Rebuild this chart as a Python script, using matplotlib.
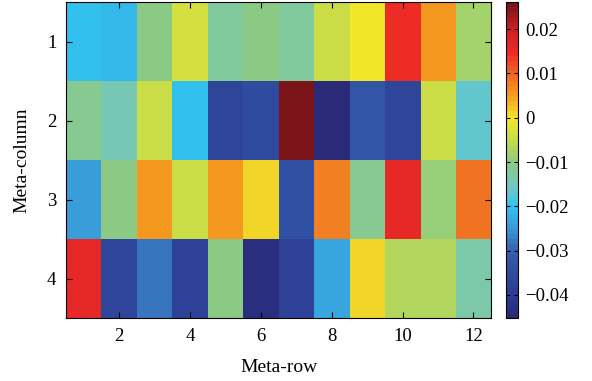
import numpy as np
import matplotlib
matplotlib.use("Agg")
import matplotlib.pyplot as plt
from matplotlib.colors import LinearSegmentedColormap

plt.rcParams['font.family'] = ['Liberation Serif', 'DejaVu Serif']
plt.rcParams['mathtext.fontset'] = 'stix'

# data: rows = Meta-column (1..4), cols = Meta-row (1..12)
row1 = [-0.020, -0.021, -0.010, -0.003, -0.012, -0.010, -0.012, -0.004, 0.000, 0.014, 0.006, -0.0075]
row2 = [-0.011, -0.015, -0.005, -0.020, -0.037, -0.035, 0.026, -0.045, -0.032, -0.037, -0.004, -0.017]
row3 = [-0.025, -0.010, 0.006, -0.004, 0.006, 0.001, -0.034, 0.008, -0.011, 0.016, -0.009, 0.009]
row4 = [0.016, -0.037, -0.028, -0.038, -0.010, -0.044, -0.038, -0.024, 0.001, -0.0068, -0.0068, -0.014]
data = np.array([row1, row2, row3, row4])

vmin, vmax = -0.0452, 0.0261
xticks = [2, 4, 6, 8, 10, 12]
yticks = [1, 2, 3, 4]
cbar_ticks = [-0.04, -0.03, -0.02, -0.01, 0, 0.01, 0.02]

anchors = [
    (-0.0452, '#2a2a78'),
    (-0.040, '#2d3d94'),
    (-0.035, '#2f4ca0'),
    (-0.030, '#3662ae'),
    (-0.025, '#3a9cda'),
    (-0.020, '#32c4f0'),
    (-0.016, '#70c8c4'),
    (-0.010, '#8ccb84'),
    (-0.005, '#c6dc4a'),
    (0.000, '#f2e82a'),
    (0.005, '#f5a020'),
    (0.010, '#f06a22'),
    (0.015, '#ec2a26'),
    (0.020, '#d02226'),
    (0.0261, '#7a1418'),
]
pos = [(v - vmin) / (vmax - vmin) for v, _ in anchors]
cols = [c for _, c in anchors]
cmap = LinearSegmentedColormap.from_list('custom', list(zip(pos, cols)), N=64)

fig = plt.figure(figsize=(5.92, 3.81), dpi=100)
ax = fig.add_axes([0.1115, 0.1654, 0.718, 0.829])
im = ax.imshow(data, cmap=cmap, vmin=vmin, vmax=vmax, aspect='auto',
               extent=[0.5, 12.5, 4.5, 0.5], interpolation='nearest')
ax.set_xticks(xticks)
ax.set_yticks(yticks)
ax.tick_params(direction='in', top=True, right=True, labelsize=13.5, length=4, pad=7)
ax.set_xlabel('Meta-row', fontsize=14, labelpad=10)
ax.set_ylabel('Meta-column', fontsize=14, labelpad=12)

cax = fig.add_axes([0.855, 0.1654, 0.0203, 0.829])
cb = fig.colorbar(im, cax=cax, ticks=cbar_ticks)
cb.ax.tick_params(direction='in', left=True, right=True, labelsize=13.5, length=3, pad=5)
cb.ax.set_yticklabels(['\u22120.04', '\u22120.03', '\u22120.02', '\u22120.01', '0', '0.01', '0.02'])

fig.savefig('out.png', dpi=100)
